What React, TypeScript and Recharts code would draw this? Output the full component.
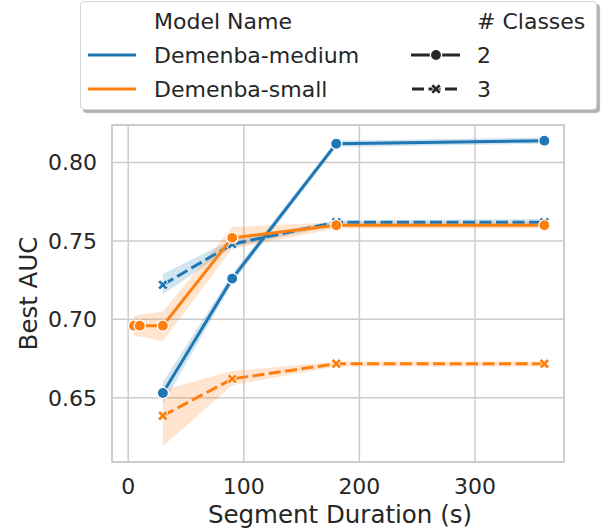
import React from "react";
import {
  ComposedChart,
  Line,
  Area,
  XAxis,
  YAxis,
  CartesianGrid,
  ReferenceArea,
} from "recharts";

// segment durations (s)
const durations = [5, 10, 30, 90, 180, 360];

// Demenba-medium, 2 classes
const medium2 = [null, null, 0.653, 0.726, 0.812, 0.814];
const medium2Lo = [null, null, 0.646, 0.723, 0.810, 0.812];
const medium2Hi = [null, null, 0.660, 0.729, 0.814, 0.816];

// Demenba-medium, 3 classes
const medium3 = [null, null, 0.722, 0.748, 0.762, 0.762];
const medium3Lo = [null, null, 0.716, 0.746, 0.760, 0.760];
const medium3Hi = [null, null, 0.729, 0.751, 0.763, 0.764];

// Demenba-small, 2 classes
const small2 = [0.696, 0.696, 0.696, 0.752, 0.76, 0.76];
const small2Lo = [0.689, 0.689, 0.686, 0.745, 0.758, 0.758];
const small2Hi = [0.702, 0.703, 0.705, 0.759, 0.762, 0.762];

// Demenba-small, 3 classes
const small3 = [null, null, 0.6385, 0.662, 0.6717, 0.6717];
const small3Lo = [null, null, 0.619, 0.658, 0.670, 0.670];
const small3Hi = [null, null, 0.655, 0.667, 0.673, 0.673];

const yTicks = [0.65, 0.7, 0.75, 0.8];
const xTicks = [0, 100, 200, 300];

const BLUE = "#1f77b4";
const ORANGE = "#ff7f0e";
const TEXT = "#262626";
const GRID = "#cccccc";
const FONT = "'DejaVu Sans', sans-serif";

const band = (lo: (number | null)[], hi: (number | null)[], i: number) =>
  lo[i] == null || hi[i] == null ? null : [lo[i], hi[i]];

const data = durations.map((x, i) => ({
  x,
  m2: medium2[i],
  m3: medium3[i],
  s2: small2[i],
  s3: small3[i],
  m2Band: band(medium2Lo, medium2Hi, i),
  m3Band: band(medium3Lo, medium3Hi, i),
  s2Band: band(small2Lo, small2Hi, i),
  s3Band: band(small3Lo, small3Hi, i),
}));

// filled "X" marker outline (plus shape rotated 45deg)
function xMarkerPath(cx: number, cy: number, L = 5.6, a = 1.7) {
  const pts = [
    [a, L], [a, a], [L, a], [L, -a], [a, -a], [a, -L],
    [-a, -L], [-a, -a], [-L, -a], [-L, a], [-a, a], [-a, L],
  ];
  const r = Math.SQRT1_2;
  return (
    pts
      .map(([x, y], i) => `${i ? "L" : "M"}${cx + (x - y) * r},${cy + (x + y) * r}`)
      .join("") + "Z"
  );
}

const circleDot = (color: string) => (props: any) => {
  const { cx, cy, index } = props;
  if (cx == null || cy == null || Number.isNaN(cy)) return <g key={index} />;
  return <circle key={index} cx={cx} cy={cy} r={5.6} fill={color} stroke="#fff" strokeWidth={1.3} />;
};

const crossDot = (color: string) => (props: any) => {
  const { cx, cy, index } = props;
  if (cx == null || cy == null || Number.isNaN(cy)) return <g key={index} />;
  return <path key={index} d={xMarkerPath(cx, cy)} fill={color} stroke="#fff" strokeWidth={1} />;
};

function LegendBox() {
  return (
    <div
      style={{
        position: "absolute",
        left: 80,
        top: 1,
        width: 515,
        height: 107,
        border: "1px solid #d4d4d4",
        borderRadius: 4,
        background: "#fff",
        boxShadow: "3px 3px 1px rgba(0,0,0,0.3)",
      }}
    >
      <svg width={515} height={107} style={{ position: "absolute", left: 0, top: 0 }}>
        <g fontFamily={FONT} fontSize={22} fill={TEXT}>
          <text x={73} y={27}>Model Name</text>
          <text x={73} y={61}>Demenba-medium</text>
          <text x={73} y={95}>Demenba-small</text>
          <text x={396} y={27}># Classes</text>
          <text x={396} y={61}>2</text>
          <text x={396} y={95}>3</text>
        </g>
        <line x1={7} x2={55} y1={53} y2={53} stroke={BLUE} strokeWidth={3} />
        <line x1={7} x2={55} y1={87} y2={87} stroke={ORANGE} strokeWidth={3} />
        <line x1={330} x2={379} y1={53} y2={53} stroke={TEXT} strokeWidth={3} />
        <circle cx={355} cy={53} r={5.6} fill={TEXT} stroke="#fff" strokeWidth={1.3} />
        <line x1={331} x2={379} y1={87} y2={87} stroke={TEXT} strokeWidth={3} strokeDasharray="12 4.5" />
        <path d={xMarkerPath(355, 87)} fill={TEXT} stroke="#fff" strokeWidth={1} />
      </svg>
    </div>
  );
}

export default function App() {
  return (
    <div style={{ position: "absolute", left: 0, top: 0, width: 602, height: 531, background: "#fff" }}>
      <ComposedChart
        width={602}
        height={531}
        data={data}
        margin={{ top: 125, right: 38, bottom: 0, left: 0 }}
      >
        <CartesianGrid stroke={GRID} strokeWidth={1.5} />
        <ReferenceArea
          x1={-14}
          x2={377}
          y1={0.609}
          y2={0.824}
          fill="none"
          stroke={GRID}
          strokeWidth={1.8}
          ifOverflow="visible"
        />
        <XAxis
          type="number"
          dataKey="x"
          domain={[-14, 377]}
          ticks={xTicks}
          allowDataOverflow
          axisLine={false}
          tickLine={false}
          tickSize={0}
          tickMargin={16}
          height={69}
          tick={{ fontSize: 22, fill: TEXT, fontFamily: FONT }}
          label={{
            content: ({ viewBox }: any) => (
              <text
                x={viewBox.x + viewBox.width / 2 + 2}
                y={viewBox.y + 61}
                textAnchor="middle"
                fontSize={24.5}
                fontFamily={FONT}
                fill={TEXT}
              >
                Segment Duration (s)
              </text>
            ),
          }}
        />
        <YAxis
          type="number"
          domain={[0.609, 0.824]}
          ticks={yTicks}
          allowDataOverflow
          width={112}
          axisLine={false}
          tickLine={false}
          tickSize={0}
          tickMargin={15}
          tickFormatter={(v) => v.toFixed(2)}
          tick={{ fontSize: 22, fill: TEXT, fontFamily: FONT }}
          label={{
            content: ({ viewBox }: any) => {
              const cx = 37;
              const cy = viewBox.y + viewBox.height / 2;
              return (
                <text
                  x={cx}
                  y={cy}
                  transform={`rotate(-90 ${cx} ${cy})`}
                  textAnchor="middle"
                  fontSize={24.5}
                  fontFamily={FONT}
                  fill={TEXT}
                >
                  Best AUC
                </text>
              );
            },
          }}
        />

        <Area type="linear" dataKey="m2Band" stroke="none" fill={BLUE} fillOpacity={0.2} connectNulls isAnimationActive={false} />
        <Area type="linear" dataKey="m3Band" stroke="none" fill={BLUE} fillOpacity={0.2} connectNulls isAnimationActive={false} />
        <Area type="linear" dataKey="s2Band" stroke="none" fill={ORANGE} fillOpacity={0.2} connectNulls isAnimationActive={false} />
        <Area type="linear" dataKey="s3Band" stroke="none" fill={ORANGE} fillOpacity={0.2} connectNulls isAnimationActive={false} />

        <Line type="linear" dataKey="m2" stroke={BLUE} strokeWidth={3} connectNulls dot={circleDot(BLUE)} activeDot={false} isAnimationActive={false} />
        <Line type="linear" dataKey="m3" stroke={BLUE} strokeWidth={3} strokeDasharray="12 4.5" connectNulls dot={crossDot(BLUE)} activeDot={false} isAnimationActive={false} />
        <Line type="linear" dataKey="s2" stroke={ORANGE} strokeWidth={3} connectNulls dot={circleDot(ORANGE)} activeDot={false} isAnimationActive={false} />
        <Line type="linear" dataKey="s3" stroke={ORANGE} strokeWidth={3} strokeDasharray="12 4.5" connectNulls dot={crossDot(ORANGE)} activeDot={false} isAnimationActive={false} />
      </ComposedChart>
      <LegendBox />
    </div>
  );
}
